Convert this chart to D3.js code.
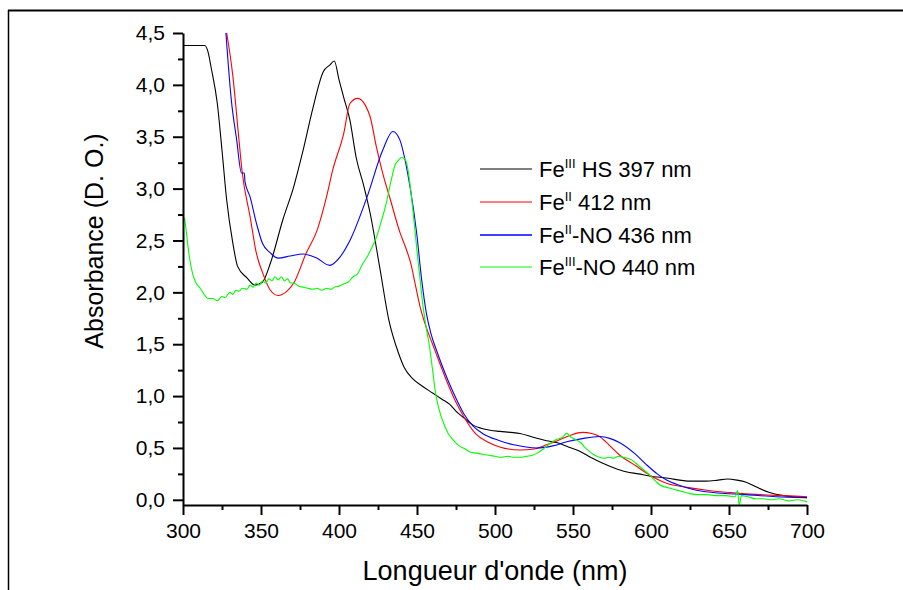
<!DOCTYPE html>
<html>
<head>
<meta charset="utf-8">
<script src="https://cdn.jsdelivr.net/npm/d3@7"></script>
<style>
  html, body { margin: 0; padding: 0; background: #fff; }
  svg { display: block; font-family: Arial, "Liberation Sans", Helvetica, sans-serif; }
</style>
</head>
<body>
<svg id="chart" width="903" height="590"></svg>
<script>
// ---- Data ----
const xTicks = [300, 350, 400, 450, 500, 550, 600, 650, 700];
const yTicks = [0, 0.5, 1, 1.5, 2, 2.5, 3, 3.5, 4, 4.5];
const xLabel = "Longueur d'onde (nm)";
const yLabel = "Absorbance (D. O.)";

// Fe(III) HS 397 nm (black)
const wlBlack = [300, 314, 316, 318, 322, 325, 328, 332, 335, 341, 346, 351, 356, 364, 371, 377, 383, 390, 394, 397, 400, 403, 407, 411, 416, 420, 426, 432, 438, 442, 447, 453, 460, 466, 471, 476, 480, 486, 491, 497, 503, 510, 516, 525, 533, 540, 547, 554, 560, 568, 576, 584, 592, 599, 610, 625, 635, 643, 649, 655, 661, 668, 676, 685, 692, 700];
const absBlack = [4.38, 4.38, 4.32, 4.17, 3.82, 3.37, 2.89, 2.47, 2.25, 2.14, 2.07, 2.10, 2.28, 2.70, 3.02, 3.37, 3.76, 4.13, 4.19, 4.23, 4.05, 3.88, 3.66, 3.30, 3.02, 2.76, 2.25, 1.73, 1.42, 1.27, 1.17, 1.10, 1.03, 0.97, 0.92, 0.84, 0.79, 0.72, 0.69, 0.67, 0.66, 0.65, 0.64, 0.60, 0.57, 0.55, 0.51, 0.47, 0.42, 0.36, 0.31, 0.27, 0.25, 0.23, 0.21, 0.18, 0.18, 0.19, 0.20, 0.19, 0.17, 0.12, 0.07, 0.04, 0.03, 0.02];

// Fe(II) 412 nm (red)
const wlRed = [328, 332, 335.5, 338, 343, 347, 351, 356, 361, 366.5, 371, 379, 386, 392, 396, 403, 407, 412, 417, 420, 424, 428, 433, 439, 443, 446, 449, 452, 456, 460, 465, 470, 475, 480, 488, 495, 503, 516, 525, 533, 540, 548, 556, 562, 567, 573, 580, 590, 599, 610, 623, 637, 651, 670, 685, 700];
const absRed = [4.50, 4.08, 3.53, 3.15, 2.73, 2.38, 2.19, 2.02, 1.97, 2.01, 2.09, 2.38, 2.60, 2.92, 3.18, 3.53, 3.82, 3.87, 3.80, 3.69, 3.40, 3.15, 2.89, 2.58, 2.42, 2.28, 2.07, 1.86, 1.66, 1.50, 1.30, 1.11, 0.94, 0.80, 0.63, 0.56, 0.51, 0.48, 0.49, 0.53, 0.57, 0.62, 0.65, 0.64, 0.61, 0.53, 0.43, 0.33, 0.24, 0.16, 0.12, 0.09, 0.07, 0.05, 0.04, 0.03];

// Fe(II)-NO 436 nm (blue)
const wlBlue = [327.5, 331, 334.4, 337.5, 339.3, 339.7, 343, 347, 351, 356, 361, 368.6, 377, 385.7, 394, 400.6, 407, 418, 428, 434.5, 439, 442.3, 445.5, 449.8, 453, 456, 459, 463, 468, 474, 480, 486, 492, 503, 512, 527, 537, 546, 556, 567, 574, 580, 590, 597, 604, 610, 618, 627, 640, 661, 680, 700];
const absBlue = [4.50, 3.85, 3.47, 3.15, 3.15, 3.07, 2.92, 2.67, 2.47, 2.38, 2.33, 2.35, 2.37, 2.33, 2.26, 2.34, 2.50, 2.92, 3.37, 3.55, 3.47, 3.28, 3.02, 2.57, 2.12, 1.80, 1.60, 1.42, 1.22, 1.01, 0.83, 0.71, 0.64, 0.57, 0.53, 0.50, 0.52, 0.56, 0.59, 0.61, 0.59, 0.55, 0.44, 0.34, 0.25, 0.19, 0.14, 0.10, 0.07, 0.05, 0.03, 0.02];

// Fe(III)-NO 440 nm (green)
const wlGreen = [301, 302, 304, 306, 308, 311, 314, 316, 319, 322, 325, 327, 330, 332, 334, 336, 338, 341, 343, 345, 347, 349, 351, 353, 355, 357, 359, 361, 363, 365, 367, 369, 371, 374, 377, 380, 383, 386, 389, 392, 395, 397, 400, 403, 406, 409, 412, 415, 418, 421, 424, 427, 430, 433, 436, 438, 440, 442, 444, 446, 448, 450, 452, 454, 456, 458, 460, 462, 464, 467, 470, 473, 477, 481, 484, 488, 492, 496, 500, 504, 508, 512, 516, 520, 524, 527, 531, 535, 539, 543, 546, 549, 552, 555, 558, 561, 564, 567, 570, 573, 576, 579, 582, 585, 588, 592, 596, 599, 603, 606, 610, 615, 620, 625, 630, 636, 642, 648, 654, 655.5, 656.5, 658, 662, 667, 672, 677, 682, 688, 694, 700];
const absGreen = [2.72, 2.60, 2.35, 2.19, 2.10, 2.04, 1.97, 1.94, 1.94, 1.92, 1.96, 1.95, 2.00, 1.98, 2.02, 2.01, 2.04, 2.03, 2.07, 2.05, 2.09, 2.07, 2.11, 2.09, 2.13, 2.11, 2.15, 2.12, 2.15, 2.11, 2.13, 2.09, 2.09, 2.06, 2.05, 2.04, 2.03, 2.04, 2.02, 2.04, 2.03, 2.05, 2.06, 2.08, 2.10, 2.15, 2.18, 2.27, 2.34, 2.43, 2.53, 2.68, 2.84, 3.05, 3.23, 3.27, 3.30, 3.29, 3.20, 2.98, 2.70, 2.40, 2.12, 1.85, 1.65, 1.48, 1.25, 1.02, 0.88, 0.74, 0.64, 0.58, 0.52, 0.49, 0.46, 0.45, 0.44, 0.43, 0.42, 0.41, 0.42, 0.41, 0.41, 0.42, 0.43, 0.45, 0.49, 0.54, 0.58, 0.60, 0.64, 0.60, 0.58, 0.55, 0.50, 0.46, 0.43, 0.41, 0.40, 0.41, 0.40, 0.42, 0.41, 0.40, 0.38, 0.33, 0.28, 0.24, 0.18, 0.14, 0.12, 0.10, 0.08, 0.06, 0.05, 0.05, 0.04, 0.04, 0.03, 0.09, -0.05, 0.04, 0.03, 0.01, 0.01, 0.00, 0.01, -0.01, 0.00, -0.02];

const seriesNames = ["HS 397 nm", "412 nm", "-NO 436 nm", "-NO 440 nm"];
const seriesSup = ["III", "II", "II", "III"];
const seriesColors = ["#000000", "#ff0000", "#0000ff", "#00ff00"];
const seriesX = [wlBlack, wlRed, wlBlue, wlGreen];
const seriesY = [absBlack, absRed, absBlue, absGreen];

// ---- Drawing ----
const svg = d3.select("#chart");

// outer frame (only top and left edges visible)
svg.append("line").attr("x1", 8).attr("x2", 903).attr("y1", 10.5).attr("y2", 10.5)
  .attr("stroke", "#000").attr("stroke-width", 2.2);
svg.append("line").attr("x1", 8.5).attr("x2", 8.5).attr("y1", 10).attr("y2", 590)
  .attr("stroke", "#000").attr("stroke-width", 1.5);

const x = d3.scaleLinear().domain([300, 700]).range([183, 807]);
const y = d3.scaleLinear().domain([-0.05, 4.5]).range([505, 33]);

const fmt = d => d3.format(".1f")(d).replace(".", ",");

// Curves
const line = d3.line().x(d => x(d[0])).y(d => y(d[1])).curve(d3.curveMonotoneX);
seriesX.forEach((xs, i) => {
  const pts = xs.map((v, j) => [v, seriesY[i][j]]);
  svg.append("path").datum(pts)
    .attr("fill", "none")
    .attr("stroke", seriesColors[i])
    .attr("stroke-width", 1.1)
    .attr("stroke-linejoin", "round")
    .attr("d", line);
});

// Minor ticks
const xMinor = d3.range(325, 700, 50);
const yMinor = d3.range(0.25, 4.5, 0.5);
svg.append("g").attr("transform", "translate(0,505)")
  .call(d3.axisBottom(x).tickValues(xMinor).tickSize(5).tickSizeOuter(0).tickFormat(""))
  .call(g => g.select(".domain").remove())
  .call(g => g.selectAll("line").attr("stroke-width", 2));
svg.append("g").attr("transform", "translate(183,0)")
  .call(d3.axisLeft(y).tickValues(yMinor).tickSize(5).tickSizeOuter(0).tickFormat(""))
  .call(g => g.select(".domain").remove())
  .call(g => g.selectAll("line").attr("stroke-width", 2));

// Major axes
const gx = svg.append("g").attr("transform", "translate(0,505)")
  .call(d3.axisBottom(x).tickValues(xTicks).tickSize(10).tickSizeOuter(0).tickPadding(8));
gx.select(".domain").attr("stroke-width", 2);
gx.selectAll("line").attr("stroke-width", 2);
gx.selectAll("text").attr("font-size", 21).attr("fill", "#000")
  .attr("font-family", "Arial, 'Liberation Sans', sans-serif");

const gy = svg.append("g").attr("transform", "translate(183,0)")
  .call(d3.axisLeft(y).tickValues(yTicks).tickSize(10).tickSizeOuter(0).tickPadding(8).tickFormat(fmt));
gy.select(".domain").attr("stroke-width", 2);
gy.selectAll("line").attr("stroke-width", 2);
gy.selectAll("text").attr("font-size", 21).attr("fill", "#000")
  .attr("font-family", "Arial, 'Liberation Sans', sans-serif");

// Axis titles
svg.append("text").attr("x", 495).attr("y", 580).attr("text-anchor", "middle")
  .attr("font-size", 27).attr("fill", "#000").text(xLabel);
svg.append("text").attr("transform", "translate(103,241) rotate(-90)")
  .attr("text-anchor", "middle").attr("font-size", 25).attr("fill", "#000").text(yLabel);

// Legend
const legendY = [169, 202, 235, 267];
seriesNames.forEach((name, i) => {
  const ly = legendY[i];
  svg.append("line").attr("x1", 480).attr("x2", 532).attr("y1", ly).attr("y2", ly)
    .attr("stroke", seriesColors[i]).attr("stroke-width", i === 2 ? 1.6 : 1.1);
  const t = svg.append("text").attr("x", 539).attr("y", ly + 8)
    .attr("font-size", 22).attr("fill", "#000");
  t.append("tspan").text("Fe");
  t.append("tspan").attr("dy", -9).attr("font-size", 13).text(seriesSup[i]);
  t.append("tspan").attr("dy", 9).text((i < 2 ? " " : "") + name);
});
</script>
</body>
</html>
